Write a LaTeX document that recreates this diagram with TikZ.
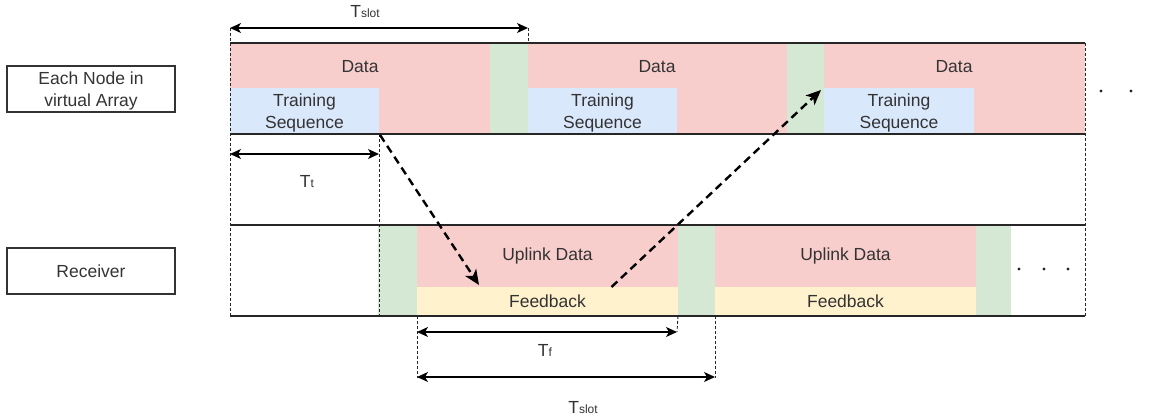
\documentclass[tikz,border=0pt]{standalone}
\usepackage{fontspec}
\setmainfont{Liberation Sans}
\usepackage{xcolor}
\usepackage{tikz}
\usetikzlibrary{arrows.meta,positioning}
\definecolor{datared}{HTML}{F8CECC}
\definecolor{trainblue}{HTML}{DAE8FC}
\definecolor{guardgreen}{HTML}{D5E8D4}
\definecolor{fbyellow}{HTML}{FFF2CC}
\definecolor{inktext}{HTML}{333333}
\newcommand{\Tsub}[1]{T{\fontsize{12}{12}\selectfont #1}}

\begin{document}
\begin{tikzpicture}[
  x=1pt,y=-1pt,
  font=\fontsize{17.5}{22}\selectfont,
  blk/.style={anchor=north west,inner sep=0pt,outer sep=0pt,align=center,text=inktext},
  datablk/.style={blk,fill=datared},
  trainblk/.style={blk,fill=trainblue},
  guardblk/.style={blk,fill=guardgreen},
  fbblk/.style={blk,fill=fbyellow},
  rolebox/.style={draw=black!80,line width=1.2pt,minimum width=168pt,minimum height=46pt,align=center,text=inktext,inner sep=0pt},
  txt/.style={text=inktext,inner sep=0pt},
  rowline/.style={line width=1.3pt,draw=black!85},
  guide/.style={line width=0.9pt,draw=black!85,dash pattern=on 3pt off 2pt},
  span/.style={{Stealth[length=11pt,width=10pt,inset=3pt]}-{Stealth[length=11pt,width=10pt,inset=3pt]},line width=1.3pt},
  hop/.style={-{Stealth[length=15pt,width=13pt,inset=4pt]},line width=2.4pt,dash pattern=on 8pt off 5pt}
]
\useasboundingbox (0,0) rectangle (1159,420);

% upper row: each node in the virtual array
\node[datablk,minimum width=260pt,minimum height=91pt] (d1) at (230,43) {};
\node[guardblk,minimum width=38pt,minimum height=91pt] (ga1) at (490,43) {};
\node[datablk,minimum width=259pt,minimum height=91pt] (d2) at (528,43) {};
\node[guardblk,minimum width=37pt,minimum height=91pt] (ga2) at (787,43) {};
\node[datablk,minimum width=261pt,minimum height=91pt] (d3) at (824,43) {};
\node[trainblk,minimum width=149pt,minimum height=46pt] (ts1) at (230,88) {};
\node[trainblk,minimum width=149pt,minimum height=46pt] (ts2) at (528,88) {};
\node[trainblk,minimum width=150pt,minimum height=46pt] (ts3) at (824,88) {};
\node[txt,align=center] (tl1) at ([yshift=-2pt]ts1.center) {Training\\Sequence};
\node[txt,align=center] (tl2) at ([yshift=-2pt]ts2.center) {Training\\Sequence};
\node[txt,align=center] (tl3) at ([yshift=-2pt]ts3.center) {Training\\Sequence};
\node[txt] (dl1) at (360,67) {Data};
\node[txt] (dl2) at (657,67) {Data};
\node[txt] (dl3) at (954,67) {Data};

% lower row: receiver
\node[guardblk,minimum width=39pt,minimum height=91pt] (gb0) at (378,225) {};
\node[datablk,minimum width=261pt,minimum height=62pt] (ul1) at (417,225) {Uplink Data};
\node[fbblk,minimum width=261pt,minimum height=29pt] (fb1) at (417,287) {Feedback};
\node[guardblk,minimum width=37pt,minimum height=91pt] (gb1) at (678,225) {};
\node[datablk,minimum width=261pt,minimum height=62pt] (ul2) at (715,225) {Uplink Data};
\node[fbblk,minimum width=261pt,minimum height=29pt] (fb2) at (715,287) {Feedback};
\node[guardblk,minimum width=35pt,minimum height=91pt] (gb2) at (976,225) {};

% row labels
\node[rolebox] (arr) at (91,89) {};
\node[txt,align=center] (arrlbl) at ([yshift=-2pt]arr.center) {Each Node in\\virtual Array};
\node[rolebox] (rx) at (91,271) {Receiver};

% frame lines
\draw[rowline] (d1.north west) -- (d3.north east);
\draw[rowline] (d1.south west) -- (d3.south east);
\draw[rowline] (230,225) -- (1085,225);
\draw[rowline] (230,316) -- (1085,316);

% guides
\coordinate (slotA) at (230,28);
\coordinate (slotB) at (528,28);
\coordinate (tt) at (379,154);
\coordinate (tfA) at (417,332);
\coordinate (tfB) at (677,332);
\coordinate (slotC) at (417,377);
\coordinate (slotD) at (715,377);
\draw[guide] (slotA) -- (230,316);
\draw[guide] (slotB) -- (d2.north west);
\draw[guide] (ts1.south east) -- (379,316);
\draw[guide] (d3.north east) -- (1085,316);
\draw[guide] (fb1.south west) -- ([yshift=-1pt]slotC);
\draw[guide] (fb1.south east) -- (tfB);
\draw[guide] (gb1.south east) -- ([yshift=-1pt]slotD);

% durations
\draw[span] (slotA) -- (slotB);
\draw[span] (230,154) -- (tt);
\draw[span] (tfA) -- (tfB);
\draw[span] (slotC) -- (slotD);
\node[txt] (lslot1) at (365,12) {\Tsub{slot}};
\node[txt] (lt) at (307,182) {\Tsub{t}};
\node[txt] (lf) at (545,350) {\Tsub{f}};
\node[txt] (lslot2) at (583,408) {\Tsub{slot}};

% training -> feedback -> next slot
\coordinate (hopin) at (479,285);
\coordinate (hopout) at (821,90);
\draw[hop] ([xshift=1pt,yshift=-1pt]ts1.south east) -- (hopin);
\draw[hop] ([xshift=64pt]fb1.north) -- (hopout);

% continuation dots
\foreach \x in {1101,1131} \fill[black!85] (\x,91) circle (1.6pt);
\foreach \x in {1019,1044,1068} \fill[black!85] (\x,269) circle (1.6pt);
\end{tikzpicture}
\end{document}
